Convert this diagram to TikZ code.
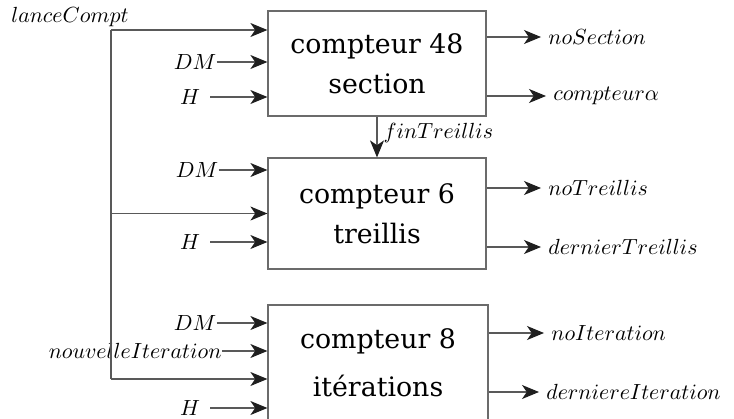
\documentclass[tikz,border=0pt]{standalone}
\usepackage{fontspec}
\setmainfont{DejaVu Serif}
\usepackage{tikz}
\usetikzlibrary{arrows.meta, positioning, calc}
\definecolor{wiregray}{gray}{0.35}
\definecolor{framegray}{gray}{0.42}
\definecolor{tipgray}{gray}{0.12}
\newcommand{\sigfont}{\fontsize{10.8}{13}\selectfont}
\tikzset{
  cptbox/.style={
    rectangle, draw=framegray, line width=0.6pt,
    minimum width=109pt, minimum height=#1,
    align=center, font=\fontsize{13.4}{20}\selectfont
  },
  sigarrow/.style={
    -{Stealth[length=8.5pt, width=7pt, inset=2.4pt, color=tipgray]},
    draw=wiregray, line width=0.55pt
  },
  wire/.style={draw=wiregray, line width=0.55pt},
  inlbl/.style={inner sep=0pt, minimum width=20pt, font=\sigfont},
  outlbl/.style={inner sep=0pt, anchor=west, font=\sigfont},
}

\begin{document}
\begin{tikzpicture}[x=0.5pt, y=-0.5pt]
      \useasboundingbox (0,0) rectangle (734,418);

      % the three counters
      \node[cptbox=52.5pt] (cpt48) at (377,63.5)  {compteur 48\\section};
      \node[cptbox=55.5pt] (cpt6)  at (377,213.5) {compteur 6\\treillis};
      \node[cptbox=58pt, minimum width=110pt, font=\fontsize{13.4}{24}\selectfont]
           (cpt8) at (378,363) {compteur 8\\itérations};

      % inputs
      \node[inlbl] (dm48) at (195,62)  {$DM$};
      \node[inlbl] (h48)  at (190,97)  {$H$};
      \node[inlbl] (dm6)  at (197,170) {$DM$};
      \node[inlbl] (h6)   at (190,242) {$H$};
      \node[inlbl] (dm8)  at (195,323) {$DM$};
      \node[inlbl] (h8)   at (190,408) {$H$};
      \node[inner sep=0pt, anchor=east, font=\sigfont]
           (nouv) at (222,351) {$nouvelleIteration$};

      \foreach \src/\dst in {dm48/cpt48, h48/cpt48, dm6/cpt6, h6/cpt6,
                             dm8/cpt8, h8/cpt8, nouv/cpt8}
        \draw[sigarrow] (\src.east) -- (\src.east -| \dst.west);

      % lanceCompt bus
      \coordinate (bustop) at (111,30);
      \coordinate (busbot) at (111,379);
      \node[inner sep=0pt, anchor=base, font=\sigfont]
           (lance) at (70,22) {$lanceCompt$};
      \draw[wire] (bustop) -- (busbot);
      \draw[sigarrow] (bustop) -- (bustop -| cpt48.west);
      \draw[sigarrow] (bustop |- cpt6) -- (cpt6.west);
      \draw[sigarrow] (busbot) -- (busbot -| cpt8.west);

      % outputs
      \node[outlbl] (nosec)  at (548,37)  {$noSection$};
      \node[outlbl] (cptal)  at (553,96)  {$compteur\alpha$};
      \node[outlbl] (notr)   at (548,188) {$noTreillis$};
      \node[outlbl] (dertr)  at (548,247) {$dernierTreillis$};
      \node[outlbl] (noit)   at (551,333) {$noIteration$};
      \node[outlbl] (derit)  at (546,392) {$derniereIteration$};

      \foreach \lbl/\cpt in {nosec/cpt48, cptal/cpt48, notr/cpt6,
                             dertr/cpt6, noit/cpt8, derit/cpt8}
        \draw[sigarrow] (\lbl.west -| \cpt.east) -- ([xshift=-3.5pt]\lbl.west);

      \draw[sigarrow] (cpt48.south) -- node[right, inner sep=3pt, yshift=2pt,
           font=\sigfont] {$finTreillis$} (cpt6.north);
    \end{tikzpicture}
\end{document}
